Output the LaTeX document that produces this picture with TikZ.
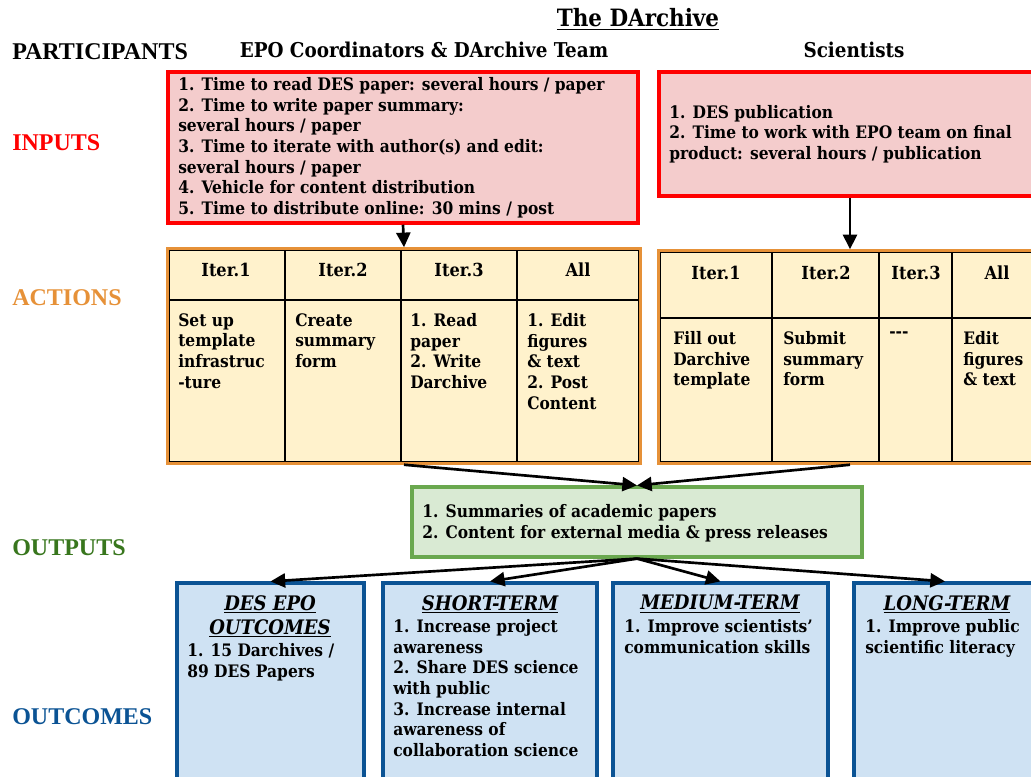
\documentclass[tikz,border=0pt]{standalone}
\usepackage{fontspec}
\setmainfont{DejaVu Serif Condensed}
\newfontfamily\labelfont{Liberation Serif}
\usetikzlibrary{arrows.meta,fit}

\definecolor{inred}{HTML}{FF0000}
\definecolor{inpink}{HTML}{F4CCCC}
\definecolor{actorange}{HTML}{E69138}
\definecolor{actfill}{HTML}{FFF2CC}
\definecolor{outgreen}{HTML}{6AA84F}
\definecolor{outfill}{HTML}{D9EAD3}
\definecolor{outlbl}{HTML}{38761D}
\definecolor{ocblue}{HTML}{0B5394}
\definecolor{ocfill}{HTML}{CFE2F3}

\begin{document}
\begin{tikzpicture}[x=0.75pt, y=-0.75pt,
    lbl/.style={font=\labelfont\bfseries\fontsize{18}{20}\selectfont, anchor=west, inner sep=0pt},
    head/.style={font=\bfseries\fontsize{15.3}{18}\selectfont, inner sep=0pt},
    txt/.style={font=\bfseries\fontsize{12.9}{15.5}\selectfont, align=left, anchor=north west, inner sep=0pt},
    cellhead/.style={font=\bfseries\fontsize{13.5}{16}\selectfont, inner sep=0pt},
    ttl/.style={font=\bfseries\itshape\fontsize{15}{18}\selectfont, align=center, anchor=north, inner sep=0pt},
    redbox/.style={draw=inred, fill=inpink, line width=2.6pt, inner sep=0pt},
    actbox/.style={draw=actorange, fill=actfill, line width=2.6pt, inner sep=0pt},
    grid/.style={draw=black, line width=0.8pt},
    outbox/.style={draw=outgreen, fill=outfill, line width=2.4pt, inner sep=0pt},
    ocbox/.style={draw=ocblue, fill=ocfill, line width=2.4pt, inner sep=0pt},
    arrow/.style={-{Triangle[length=11pt,width=10.5pt]}, line width=2pt}
]
\path[use as bounding box, clip] (0,0) rectangle (1031,776);

% participants
\node[head, font=\bfseries\fontsize{17.9}{20}\selectfont] (title) at (638,19) {\underline{The DArchive}};
\node[lbl] (lblpart) at (12,52) {PARTICIPANTS};
\node[head] (epo) at (424,50) {EPO Coordinators \& DArchive Team};
\node[head] (sci) at (854,50) {Scientists};

% inputs
\node[lbl, text=inred] (lblin) at (12,143) {INPUTS};
\node[redbox, fit={(168,72) (638,223)}] (in1) {};
\node[txt] (in1t) at (178,77) {1. Time to read DES paper: several hours / paper\\
2. Time to write paper summary:\\
several hours / paper\\
3. Time to iterate with author(s) and edit:\\
several hours / paper\\
4. Vehicle for content distribution\\
5. Time to distribute online: 30 mins / post};
\node[redbox, fit={(659,72) (1041,196)}] (in2) {};
\node[txt, anchor=west] (in2t) at (669,134) {1. DES publication\\
2. Time to work with EPO team on final\\
product: several hours / publication};

% actions
\node[lbl, text=actorange] (lblact) at (12,298) {ACTIONS};
\node[actbox, fit={(168,249) (640,463)}] (act1) {};
\draw[grid] (169.5,250.5) rectangle (638.5,461.5);
\draw[grid] (169.5,300) -- (638.5,300);
\foreach \cx in {285,401,517}
    \draw[grid] (\cx,250.5) -- (\cx,461.5);
\node[cellhead] (a1h1) at (226,270) {Iter.1};
\node[cellhead] (a1h2) at (343,270) {Iter.2};
\node[cellhead] (a1h3) at (459,270) {Iter.3};
\node[cellhead] (a1h4) at (578,270) {All};
\node[txt] (a1b1) at (178,313) {Set up\\template\\infrastruc\\-ture};
\node[txt] (a1b2) at (295,313) {Create\\summary\\form};
\node[txt] (a1b3) at (410,313) {1. Read\\paper\\2. Write\\Darchive};
\node[txt] (a1b4) at (527,313) {1. Edit\\figures\\\& text\\2. Post\\Content};

\node[actbox, fit={(659,251) (1041,463)}] (act2) {};
\draw[grid] (660.5,252.5) rectangle (1039.5,461.5);
\draw[grid] (660.5,318) -- (1039.5,318);
\foreach \cx in {772,879,952}
    \draw[grid] (\cx,252.5) -- (\cx,461.5);
\node[cellhead] (a2h1) at (716,273) {Iter.1};
\node[cellhead] (a2h2) at (826,273) {Iter.2};
\node[cellhead] (a2h3) at (916,273) {Iter.3};
\node[cellhead] (a2h4) at (997,273) {All};
\node[txt] (a2b1) at (673,331) {Fill out\\Darchive\\template};
\node[txt] (a2b2) at (783,331) {Submit\\summary\\form};
\node[txt] (a2b3) at (889,331) {-{}-{}-};
\node[txt] (a2b4) at (963,331) {Edit\\figures\\\& text};

% outputs
\node[lbl, text=outlbl] (lblout) at (12,548) {OUTPUTS};
\node[outbox, fit={(412,487) (862,557)}] (out) {};
\node[txt, anchor=west] (outt) at (422,523) {1. Summaries of academic papers\\
2. Content for external media \& press releases};

% outcomes
\node[lbl, text=ocblue] (lbloc) at (12,717) {OUTCOMES};
\node[ocbox, fit={(177,583) (364,795)}] (oc1) {};
\node[ocbox, fit={(383,583) (597,795)}] (oc2) {};
\node[ocbox, fit={(613,583) (828,795)}] (oc3) {};
\node[ocbox, fit={(854,583) (1036,795)}] (oc4) {};
\node[ttl] (oc1h) at (270,595) {\underline{DES EPO}\\\underline{OUTCOMES}};
\node[ttl] (oc2h) at (490,595) {\underline{SHORT-TERM}};
\node[ttl] (oc3h) at (720,595) {\underline{MEDIUM-TERM}};
\node[ttl] (oc4h) at (947,595) {\underline{LONG-TERM}};
\node[txt] (oc1t) at (187,643) {1. 15 Darchives /\\89 DES Papers};
\node[txt] (oc2t) at (393,619) {1. Increase project\\awareness\\2. Share DES science\\with public\\3. Increase internal\\awareness of\\collaboration science};
\node[txt] (oc3t) at (624,619) {1. Improve scientists'\\communication skills};
\node[txt] (oc4t) at (865,619) {1. Improve public\\scientific literacy};

% connectors
\draw[arrow] (in1.south) -- (act1.north);
\draw[arrow] (in2.south) -- (act2.north);
\draw[arrow] (act1.south) -- (out.north);
\draw[arrow] (act2.south) -- (out.north);
\foreach \i in {1,...,4}
    \draw[arrow] (out.south) -- (oc\i.north);

\end{tikzpicture}
\end{document}
